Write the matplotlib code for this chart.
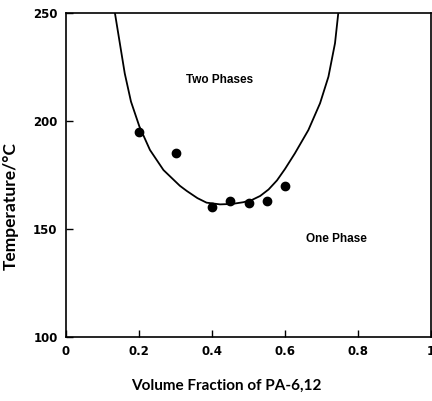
import matplotlib
matplotlib.use('Agg')
import matplotlib.pyplot as plt

# measured points
frac_pts = [0.2, 0.3, 0.4, 0.45, 0.5, 0.55, 0.6]
temp_pts = [195, 185, 160, 163, 162, 163, 170]

# phase boundary
frac_curve = [0.134, 0.147, 0.161, 0.178, 0.201, 0.230, 0.267, 0.312, 0.331, 0.360,
              0.385, 0.422, 0.455, 0.486, 0.510, 0.532, 0.555, 0.578, 0.600, 0.627,
              0.664, 0.696, 0.719, 0.737, 0.746]
temp_curve = [250, 236.5, 222, 209, 197.5, 186.6, 177.3, 170, 167.6, 164.3,
              162.2, 161.4, 161.6, 162.4, 163.5, 165.3, 168.3, 172.5, 177.8, 185,
              195.8, 208.2, 220.5, 236, 250]

xticks = [0, 0.2, 0.4, 0.6, 0.8, 1]
xticklabels = ['0', '0.2', '0.4', '0.6', '0.8', '1']
yticks = [100, 150, 200, 250]

fig = plt.figure(figsize=(4.32, 4.01), dpi=100)
ax = fig.add_axes([66/432, 1 - 337/401, 365/432, 324/401])

ax.plot(frac_curve, temp_curve, color='black', lw=1.3)
ax.plot(frac_pts, temp_pts, 'o', color='black', ms=6)

ax.set_xlim(0, 1)
ax.set_ylim(100, 250)
ax.set_xticks(xticks)
ax.set_xticklabels(xticklabels)
ax.set_yticks(yticks)
ax.tick_params(direction='in', length=5, width=1, labelsize=8.5, pad=6)
for lab in ax.get_xticklabels() + ax.get_yticklabels():
    lab.set_fontfamily('DejaVu Sans')
    lab.set_fontweight('bold')
for sp in ax.spines.values():
    sp.set_linewidth(1.2)

ax.set_xlabel('Volume Fraction of PA-6,12', fontsize=11, fontweight='bold', family='Lato')
ax.set_ylabel('Temperature/°C', fontsize=12.5, fontweight='bold', family='Lato')
ax.xaxis.set_label_coords(0.44, -0.13)
ax.yaxis.set_label_coords(-0.129, 0.404)

ax.text(0.422, 219, 'Two Phases', fontsize=8.5, fontweight='bold', family='Liberation Sans',
        ha='center', va='center')
ax.text(0.742, 145.4, 'One Phase', fontsize=8.5, fontweight='bold', family='Liberation Sans',
        ha='center', va='center')

fig.savefig('out.png', dpi=100)
